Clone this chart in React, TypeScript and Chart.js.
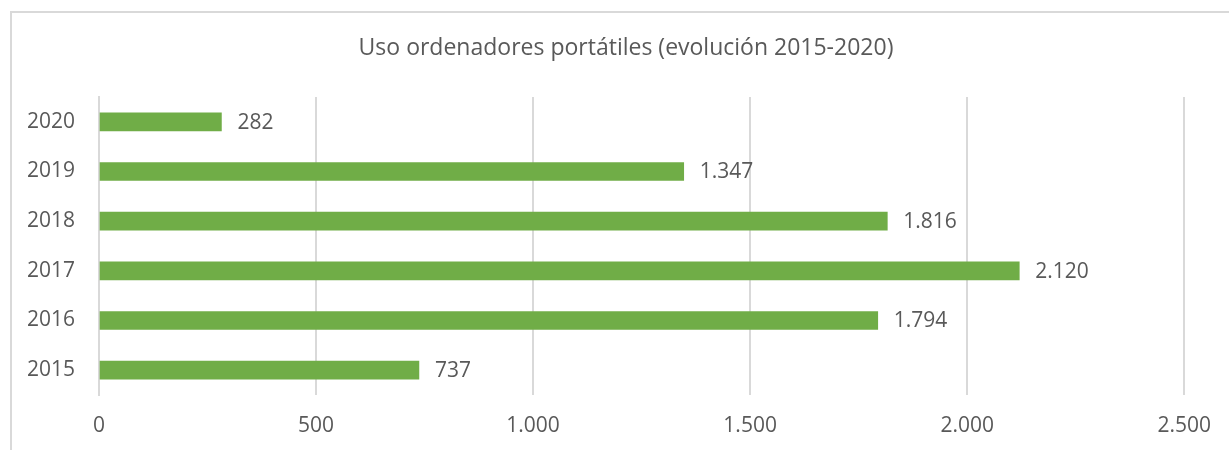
import React, { useEffect, useRef } from "react";
import { Chart, registerables } from "chart.js";

Chart.register(...registerables);

const categories = ["2020", "2019", "2018", "2017", "2016", "2015"];
const values = [282, 1347, 1816, 2120, 1794, 737];
const xTicks = [0, 500, 1000, 1500, 2000, 2500];
const titleText = "Uso ordenadores portátiles (evolución 2015-2020)";

const FONT = "'Open Sans', 'Noto Sans', sans-serif";
const TEXT = "#595959";
const GREEN = "#70AD47";
const GRID = "#D9D9D9";

function fmt(n: number): string {
  const s = Math.round(n).toString();
  return s.replace(/\B(?=(\d{3})+(?!\d))/g, ".");
}

const labelPlugin = {
  id: "barLabels",
  afterDatasetsDraw(chart: any) {
    const ctx = chart.ctx;
    const meta = chart.getDatasetMeta(0);
    ctx.save();
    ctx.fillStyle = TEXT;
    ctx.font = `21px ${FONT}`;
    ctx.textAlign = "left";
    ctx.textBaseline = "middle";
    meta.data.forEach((bar: any, i: number) => {
      ctx.fillText(fmt(values[i]), bar.x + 16, bar.y + 1);
    });
    ctx.restore();
  },
};

const titlePlugin = {
  id: "customTitle",
  afterDraw(chart: any) {
    const ctx = chart.ctx;
    ctx.save();
    ctx.fillStyle = TEXT;
    ctx.font = `23px ${FONT}`;
    ctx.textAlign = "center";
    ctx.textBaseline = "middle";
    ctx.fillText(titleText, 626, 48);
    ctx.restore();
  },
};

export default function App() {
  const ref = useRef<HTMLCanvasElement>(null);
  useEffect(() => {
    if (!ref.current) return;
    const chart = new Chart(ref.current, {
      type: "bar",
      data: {
        labels: categories,
        datasets: [
          {
            data: values,
            backgroundColor: GREEN,
            borderWidth: 0,
            barThickness: 18,
          },
        ],
      },
      options: {
        indexAxis: "y",
        animation: false,
        responsive: false,
        maintainAspectRatio: false,
        layout: { padding: { left: 0, right: 44, top: 97, bottom: 0 } },
        plugins: {
          legend: { display: false },
          tooltip: { enabled: false },
          title: { display: false },
        },
        scales: {
          x: {
            min: 0,
            max: 2500,
            afterBuildTicks: (scale: any) => {
              scale.ticks = xTicks.map((v) => ({ value: v }));
            },
            afterFit: (scale: any) => {
              scale.height = 55;
            },
            grid: { color: GRID, lineWidth: 2, drawTicks: false },
            border: { display: false },
            ticks: {
              color: TEXT,
              font: { family: FONT, size: 21 },
              padding: 18,
              callback: (v: any) => fmt(Number(v)),
            },
          },
          y: {
            afterFit: (scale: any) => {
              scale.width = 99;
            },
            grid: { display: false, drawTicks: false },
            border: { display: true, color: GRID, width: 2 },
            ticks: {
              color: TEXT,
              font: { family: FONT, size: 21 },
              padding: 24,
            },
          },
        },
      },
      plugins: [labelPlugin, titlePlugin],
    });
    return () => chart.destroy();
  }, []);

  return (
    <div style={{ position: "fixed", left: 0, top: 0, width: 1229, height: 450, overflow: "hidden", background: "#fff" }}>
      <div
        style={{
          position: "absolute",
          left: 10,
          top: 11,
          width: 1400,
          height: 600,
          borderLeft: `2px solid ${GRID}`,
          borderTop: `2px solid ${GRID}`,
        }}
      />
      <canvas ref={ref} width={1229} height={450} style={{ position: "absolute", left: 0, top: 0, width: 1229, height: 450 }} />
    </div>
  );
}
